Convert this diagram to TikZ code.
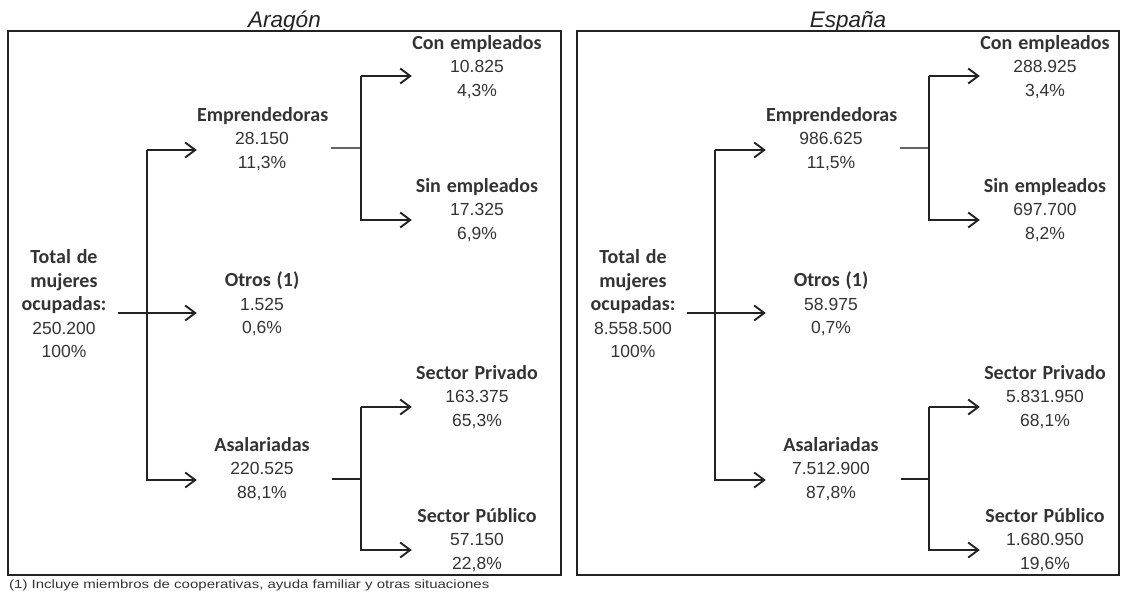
\documentclass[tikz,border=0pt]{standalone}
\usepackage{fontspec}
\setmainfont{Liberation Sans}
\newfontfamily\carl{Carlito}
\usetikzlibrary{arrows.meta}
\definecolor{ink}{HTML}{222222}
\definecolor{numink}{HTML}{333333}
\newcommand\numf{\fontsize{17.5}{23.5}\selectfont}
\newcommand\lblf{\carl\bfseries\fontsize{20}{23.5}\selectfont}
\begin{document}
\begin{tikzpicture}[x=1pt,y=-1pt,
  blk/.style={text width=130pt, align=center, inner sep=0pt, font=\numf, text=numink},
  tot/.style={text width=108pt, align=center, inner sep=0pt, font=\numf, text=numink},
  arr/.style={draw=ink, line width=2.1pt, -{Straight Barb[length=10pt,width=15pt,line width=1.9pt]}},
  ln/.style={draw=ink, line width=2.1pt},
  thinln/.style={draw=ink!70, line width=1.4pt},
  panel/.style={draw=ink, line width=2pt},
  ttl/.style={font=\fontsize{22.5}{24}\selectfont\itshape, text=ink, anchor=base, inner sep=0pt},
  foot/.style={font=\fontsize{12}{14}\selectfont, text=numink, anchor=base west, inner sep=0pt}]
\useasboundingbox (0,0) rectangle (1123,598);

% ---------------- Aragon ----------------
\draw[panel] (8,31) rectangle (561,575);
\node[ttl] (tA) at (284.5,27.5) {Aragón};
\node[tot] (at) at (64,304) {{\lblf Total de\\mujeres\\ocupadas:}\\250.200\\100\%};
\node[blk] (ae) at (262,139) {{\lblf Emprendedoras}\\28.150\\11,3\%};
\node[blk] (ao) at (262,304) {{\lblf Otros (1)}\\1.525\\0,6\%};
\node[blk] (aa) at (262,469) {{\lblf Asalariadas}\\220.525\\88,1\%};
\node[blk] (ac) at (477,67) {{\lblf Con empleados}\\10.825\\4,3\%};
\node[blk] (as) at (477,210) {{\lblf Sin empleados}\\17.325\\6,9\%};
\node[blk] (ap) at (477,397) {{\lblf Sector Privado}\\163.375\\65,3\%};
\node[blk] (au) at (477,540) {{\lblf Sector Público}\\57.150\\22,8\%};

\coordinate (atr) at (147,0);
\coordinate (abr) at (361,0);
\coordinate (atOut) at ([yshift=-9pt]at.east);
\coordinate (aeIn) at ([yshift=-11pt]ae.west);
\coordinate (aoIn) at ([yshift=-9pt]ao.west);
\coordinate (aaIn) at ([yshift=-11pt]aa.west);
\coordinate (aeOut) at ([xshift=4pt,yshift=-9pt]ae.east);
\coordinate (aaOut) at ([xshift=5pt,yshift=-10pt]aa.east);
\coordinate (acIn) at ([yshift=-9pt]ac.west);
\coordinate (asIn) at ([yshift=-10pt]as.west);
\coordinate (apIn) at ([yshift=-10pt]ap.west);
\coordinate (auIn) at ([yshift=-10pt]au.west);

\draw[arr] (atOut) -- (aoIn);
\draw[arr] (atr |- aeIn) -- (aeIn);
\draw[arr] (atr |- aeIn) -- (atr |- aaIn) -- (aaIn);
\draw[thinln] (aeOut) -- (abr |- aeOut);
\draw[arr] (abr |- acIn) -- (acIn);
\draw[arr] (abr |- acIn) -- (abr |- asIn) -- (asIn);
\draw[ln] (aaOut) -- (abr |- aaOut);
\draw[arr] (abr |- apIn) -- (apIn);
\draw[arr] (abr |- apIn) -- (abr |- auIn) -- (auIn);

% ---------------- Espana ----------------
\draw[panel] (577,31) rectangle (1119,575);
\node[ttl] (tE) at (848,27.5) {España};
\node[tot] (bt) at (633,304) {{\lblf Total de\\mujeres\\ocupadas:}\\8.558.500\\100\%};
\node[blk] (be) at (831,139) {{\lblf Emprendedoras}\\986.625\\11,5\%};
\node[blk] (bo) at (831,304) {{\lblf Otros (1)}\\58.975\\0,7\%};
\node[blk] (ba) at (831,469) {{\lblf Asalariadas}\\7.512.900\\87,8\%};
\node[blk] (bc) at (1045,67) {{\lblf Con empleados}\\288.925\\3,4\%};
\node[blk] (bs) at (1045,210) {{\lblf Sin empleados}\\697.700\\8,2\%};
\node[blk] (bp) at (1045,397) {{\lblf Sector Privado}\\5.831.950\\68,1\%};
\node[blk] (bu) at (1045,540) {{\lblf Sector Público}\\1.680.950\\19,6\%};

\coordinate (btr) at (715,0);
\coordinate (bbr) at (929,0);
\coordinate (btOut) at ([yshift=-9pt]bt.east);
\coordinate (beIn) at ([yshift=-11pt]be.west);
\coordinate (boIn) at ([yshift=-9pt]bo.west);
\coordinate (baIn) at ([yshift=-11pt]ba.west);
\coordinate (beOut) at ([xshift=4pt,yshift=-9pt]be.east);
\coordinate (baOut) at ([xshift=5pt,yshift=-10pt]ba.east);
\coordinate (bcIn) at ([yshift=-9pt]bc.west);
\coordinate (bsIn) at ([yshift=-10pt]bs.west);
\coordinate (bpIn) at ([yshift=-10pt]bp.west);
\coordinate (buIn) at ([yshift=-10pt]bu.west);

\draw[arr] (btOut) -- (boIn);
\draw[arr] (btr |- beIn) -- (beIn);
\draw[arr] (btr |- beIn) -- (btr |- baIn) -- (baIn);
\draw[thinln] (beOut) -- (bbr |- beOut);
\draw[arr] (bbr |- bcIn) -- (bcIn);
\draw[arr] (bbr |- bcIn) -- (bbr |- bsIn) -- (bsIn);
\draw[ln] (baOut) -- (bbr |- baOut);
\draw[arr] (bbr |- bpIn) -- (bpIn);
\draw[arr] (bbr |- bpIn) -- (bbr |- buIn) -- (buIn);

% ---------------- footnote ----------------
\node[foot] (fn) at (9,588) {\scalebox{1.25}[1]{(1) Incluye miembros de cooperativas, ayuda familiar y otras situaciones}};
\end{tikzpicture}
\end{document}
